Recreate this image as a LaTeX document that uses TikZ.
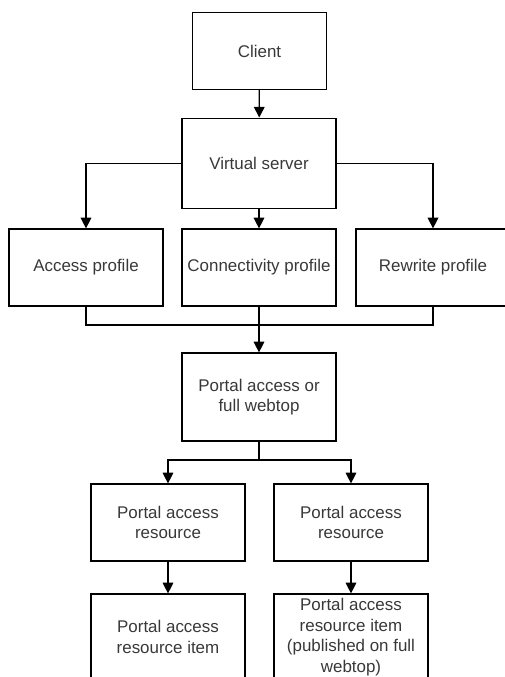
\documentclass[tikz,border=0pt]{standalone}
\usepackage{fontspec}
\setmainfont{Liberation Sans}
\usetikzlibrary{arrows.meta}

\begin{document}
\begin{tikzpicture}[x=0.75pt,y=-0.75pt]
	 \tikzstyle{box}=[draw,line width=0.9pt,minimum width=115.5pt,minimum height=57.75pt,inner sep=0pt,align=center,
	   font=\fontsize{12.7pt}{15.5pt}\selectfont,text=black!78]
	 \tikzstyle{line} = [draw,line width=0.9pt,black]
	 \tikzstyle{edge} = [line,-{Triangle[length=8pt,width=8pt]}]

	\clip (0,0) rectangle (505,677);

	\node[box,minimum width=101pt] (client) at (259.5,51) {Client};
	 \node[box,minimum height=68pt] (vs) at (259,163.5) {Virtual server};
	 \node[box] (access) at (86,267.5) {Access profile};
	 \node[box] (conn) at (259,267.5) {Connectivity profile};
	 \node[box] (rewrite) at (433,267.5) {Rewrite profile};
	 \node[box,minimum height=66pt] (portal) at (259,397) {Portal access or\\full webtop};
	 \node[box] (par1) at (168,522.5) {Portal access\\resource};
	 \node[box] (par2) at (351,522.5) {Portal access\\resource};
	 \node[box,minimum height=64.5pt] (item1) at (168,637) {Portal access\\resource item};
	 \node[box,minimum height=64.5pt] (item2) at (351,637) {Portal access\\resource item\\(published on full\\webtop)};

	\coordinate (join) at (259,325);
	 \coordinate (split) at (259,460);

	\draw[edge] (client) -- (vs);
	 \draw[edge] (vs.west) -| (access.north);
	 \draw[edge] (vs) -- (conn);
	 \draw[edge] (vs.east) -| (rewrite.north);
	 \draw[line] (access.south) |- (join) -| (rewrite.south);
	 \draw[edge] (conn) -- (portal);
	 \draw[line] (portal) -- (split);
	 \draw[edge] (split) -| (par1.north);
	 \draw[edge] (split) -| (par2.north);
	 \draw[edge] (par1) -- (item1);
	 \draw[edge] (par2) -- (item2);
 \end{tikzpicture}
\end{document}
